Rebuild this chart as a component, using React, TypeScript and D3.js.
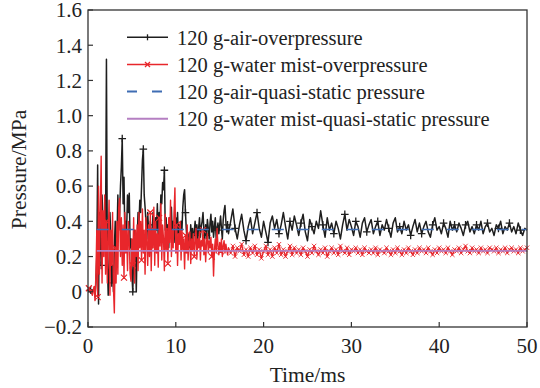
import React from "react";
import * as d3 from "d3";

const stepEarly = 0.1; // ms, 0 .. 16 ms
const lateStart = 16.25;
const stepLate = 0.25; // ms, 16.25 .. 50 ms

// 120 g - air - overpressure (MPa)
const airEarly = [
  0.01, 0.0, 0.02, 0.01, -0.01, 0.0, 0.01, 0.02, -0.03, 0.05,
  0.2, 0.72, -0.07, 0.45, 0.3, 0.15, 0.55, 0.4, 0.25, 0.38,
  0.35, 1.32, 0.2, -0.02, 0.1, 0.45, 0.3, 0.05, 0.15, 0.0,
  0.25, 0.4, 0.15, 0.3, 0.55, 0.35, 0.45, 0.6, 0.71, 0.87,
  0.5, 0.65, 0.3, 0.4, 0.35, 0.55, 0.45, 0.56, 0.25, 0.3,
  0.1, 0.0, 0.2, 0.35, 0.25, 0.0, 0.3, 0.45, 0.38, 0.52,
  0.45, 0.6, 0.75, 0.81, 0.55, 0.48, 0.4, 0.3, 0.45, 0.35,
  0.28, 0.4, 0.32, 0.25, 0.45, 0.38, 0.3, 0.42, 0.35, 0.5,
  0.3, 0.45, 0.38, 0.55, 0.5, 0.62, 0.58, 0.69, 0.35, 0.42,
  0.3, 0.38, 0.25, 0.42, 0.35, 0.48, 0.32, 0.4, 0.28, 0.36,
  0.42, 0.33, 0.45, 0.3, 0.38, 0.28, 0.4, 0.35, 0.48, 0.55,
  0.58, 0.45, 0.35, 0.28, 0.22, 0.33, 0.25, 0.38, 0.3, 0.36,
  0.28, 0.34, 0.4, 0.32, 0.38, 0.29, 0.36, 0.42, 0.31, 0.37,
  0.4, 0.45, 0.35, 0.3, 0.38, 0.32, 0.41, 0.36, 0.3, 0.39,
  0.44, 0.34, 0.4, 0.31, 0.37, 0.42, 0.3, 0.35, 0.39, 0.33,
  0.38, 0.43, 0.36, 0.3, 0.41, 0.46, 0.49, 0.4, 0.34, 0.38,
  0.33,
];
const airLate = [
  0.4, 0.47, 0.36, 0.3, 0.38, 0.44, 0.35, 0.29,
  0.37, 0.42, 0.33, 0.39, 0.45, 0.36, 0.31, 0.4,
  0.34, 0.28, 0.39, 0.43, 0.36, 0.41, 0.33, 0.38,
  0.45, 0.37, 0.3, 0.4, 0.35, 0.43, 0.38, 0.32,
  0.39, 0.44, 0.34, 0.29, 0.41, 0.37, 0.33, 0.4,
  0.36, 0.46, 0.38, 0.31, 0.42, 0.35, 0.39, 0.33,
  0.4, 0.36, 0.3, 0.38, 0.44, 0.35, 0.41, 0.37,
  0.32, 0.4, 0.37, 0.31, 0.39, 0.42, 0.34, 0.38,
  0.41, 0.33, 0.37, 0.4, 0.32, 0.38, 0.35, 0.41,
  0.36, 0.31, 0.39, 0.42, 0.34, 0.37, 0.33, 0.4,
  0.35, 0.38, 0.32, 0.37, 0.41, 0.34, 0.39, 0.33,
  0.37, 0.4, 0.34, 0.31, 0.38, 0.42, 0.35, 0.37,
  0.33, 0.39, 0.36, 0.31, 0.4, 0.35, 0.38, 0.34,
  0.39, 0.36, 0.32, 0.38, 0.4, 0.34, 0.37, 0.33,
  0.38, 0.35, 0.4, 0.33, 0.37, 0.39, 0.34, 0.36,
  0.32, 0.38, 0.36, 0.4, 0.33, 0.37, 0.35, 0.39,
  0.34, 0.37, 0.33, 0.39, 0.35, 0.32, 0.36, 0.35,
];

// 120 g - water mist - overpressure (MPa)
const mistEarly = [
  0.01, 0.02, 0.0, 0.01, 0.0, -0.02, 0.01, 0.03, -0.05, 0.1,
  0.35, -0.03, 0.6, 0.1, 0.45, 0.77, 0.05, 0.46, 0.2, 0.55,
  0.1, 0.4, 0.05, 0.3, 0.52, -0.02, 0.35, 0.15, 0.45, 0.02,
  -0.12, 0.25, 0.05, 0.4, 0.1, 0.48, 0.53, 0.2, 0.42, 0.15,
  0.38, 0.08, 0.45, 0.22, 0.35, 0.12, 0.4, 0.28, 0.1, 0.06,
  0.3, 0.15, 0.42, 0.05, 0.35, 0.2, 0.38, 0.12, 0.45, 0.25,
  0.4, 0.18, 0.47, 0.22, 0.35, 0.1, 0.42, 0.28, 0.15, 0.38,
  0.2, 0.45, 0.12, 0.36, 0.25, 0.48, 0.15, 0.4, 0.22, 0.33,
  0.14, 0.42, 0.26, 0.5, 0.18, 0.38, 0.3, 0.12, 0.44, 0.24,
  0.36, 0.16, 0.42, 0.28, 0.52, 0.2, 0.35, 0.25, 0.45, 0.59,
  0.22, 0.38, 0.15, 0.33, 0.27, 0.4, 0.18, 0.35, 0.24, 0.3,
  0.13, 0.32, 0.22, 0.38, 0.18, 0.28, 0.34, 0.16, 0.3, 0.24,
  0.33, 0.2, 0.28, 0.36, 0.19, 0.3, 0.25, 0.34, 0.18, 0.29,
  0.26, 0.35, 0.21, 0.3, 0.17, 0.28, 0.33, 0.22, 0.29, 0.25,
  0.31, 0.2, 0.27, 0.09, 0.24, 0.3, 0.22, 0.36, 0.26, 0.21,
  0.28, 0.23, 0.3, 0.2, 0.26, 0.29, 0.22, 0.27, 0.24, 0.21,
  0.25,
];
const mistLate = [
  0.22, 0.26, 0.2, 0.25, 0.23, 0.27, 0.21, 0.24,
  0.2, 0.25, 0.22, 0.26, 0.21, 0.24, 0.19, 0.23,
  0.26, 0.21, 0.24, 0.2, 0.25, 0.22, 0.27, 0.21,
  0.24, 0.2, 0.23, 0.26, 0.21, 0.25, 0.22, 0.24,
  0.21, 0.25, 0.23, 0.2, 0.24, 0.22, 0.26, 0.23,
  0.21, 0.24, 0.22, 0.25, 0.2, 0.23, 0.25, 0.22,
  0.24, 0.21, 0.26, 0.23, 0.22, 0.25, 0.21, 0.24,
  0.23, 0.25, 0.22, 0.24, 0.21, 0.25, 0.23, 0.22,
  0.24, 0.22, 0.25, 0.21, 0.24, 0.23, 0.22, 0.25,
  0.23, 0.21, 0.24, 0.22, 0.25, 0.23, 0.21, 0.24,
  0.22, 0.25, 0.23, 0.21, 0.24, 0.22, 0.25, 0.23,
  0.24, 0.22, 0.25, 0.23, 0.21, 0.24, 0.22, 0.25,
  0.23, 0.24, 0.22, 0.25, 0.23, 0.21, 0.24, 0.23,
  0.25, 0.22, 0.24, 0.26, 0.23, 0.22, 0.25, 0.23,
  0.24, 0.22, 0.25, 0.23, 0.24, 0.22, 0.25, 0.24,
  0.23, 0.25, 0.22, 0.24, 0.23, 0.25, 0.22, 0.24,
  0.25, 0.23, 0.24, 0.22, 0.25, 0.23, 0.24, 0.25,
];

// quasi-static pressure levels (MPa) and their time span (ms)
const quasiSpan = [1.0, 50];
const airQuasi = 0.354;
const mistQuasi = 0.232;

const xTicks = [0, 10, 20, 30, 40, 50];
const yTicks = [-0.2, 0, 0.2, 0.4, 0.6, 0.8, 1.0, 1.2, 1.4, 1.6];
const yTickLabels = ["\u22120.2", "0", "0.2", "0.4", "0.6", "0.8", "1.0", "1.2", "1.4", "1.6"];
const legendLabels = [
  "120 g-air-overpressure",
  "120 g-water mist-overpressure",
  "120 g-air-quasi-static pressure",
  "120 g-water mist-quasi-static pressure",
];

const W = 540;
const H = 388;
const margin = { left: 88, right: 13, top: 10, bottom: 61 };
const font = "'Liberation Serif', 'Times New Roman', Times, serif";
const cBlack = "#1e1e1e";
const cRed = "#e8262b";
const cBlue = "#3f6db3";
const cPurple = "#b57fc2";

function toPoints(early: number[], late: number[]): [number, number][] {
  const a: [number, number][] = early.map((v, i) => [i * stepEarly, v]);
  const b: [number, number][] = late.map((v, i) => [lateStart + i * stepLate, v]);
  return a.concat(b);
}

export default function App() {
  const x = d3.scaleLinear().domain([0, 50]).range([margin.left, W - margin.right]);
  const y = d3.scaleLinear().domain([-0.2, 1.6]).range([H - margin.bottom, margin.top]);

  const air = toPoints(airEarly, airLate);
  const mist = toPoints(mistEarly, mistLate);

  const line = d3
    .line<[number, number]>()
    .x((d) => x(d[0]))
    .y((d) => y(d[1]));

  // markers: "+" for air, "x" for water mist
  const plusPath = (pts: [number, number][], s: number) =>
    pts
      .map((d) => {
        const px = x(d[0]);
        const py = y(d[1]);
        return `M${px - s},${py}H${px + s}M${px},${py - s}V${py + s}`;
      })
      .join("");
  const crossPath = (pts: [number, number][], s: number) =>
    pts
      .map((d) => {
        const px = x(d[0]);
        const py = y(d[1]);
        return `M${px - s},${py - s}L${px + s},${py + s}M${px - s},${py + s}L${px + s},${py - s}`;
      })
      .join("");

  const airMarks = air.filter((d, i) =>
    i < airEarly.length ? i % 12 === 3 : (i - airEarly.length) % 5 === 2
  );
  const mistMarksEarly = mist.filter((d, i) => i < mistEarly.length && i % 10 === 1);
  const mistMarksLate = mist.filter((d, i) => i >= mistEarly.length);

  const x0 = margin.left;
  const x1 = W - margin.right;
  const y0 = H - margin.bottom;
  const y1 = margin.top;

  const legendY = [37.3, 64.5, 91.5, 118.7];

  return (
    <svg
      width={W}
      height={H}
      style={{ position: "absolute", left: 0, top: 0, background: "#fff" }}
      fontFamily={font}
    >
      {/* traces */}
      <path d={line(air) ?? ""} fill="none" stroke={cBlack} strokeWidth={1.5} strokeLinejoin="round" />
      <path d={plusPath(airMarks, 3.8)} fill="none" stroke={cBlack} strokeWidth={1.3} />
      <path d={line(mist) ?? ""} fill="none" stroke={cRed} strokeWidth={1.4} strokeLinejoin="round" />
      <path d={crossPath(mistMarksEarly, 3)} fill="none" stroke={cRed} strokeWidth={1.2} />
      <path d={crossPath(mistMarksLate, 2.2)} fill="none" stroke={cRed} strokeWidth={1} opacity={0.9} />
      <line
        x1={x(quasiSpan[0])}
        x2={x(quasiSpan[1])}
        y1={y(airQuasi)}
        y2={y(airQuasi)}
        stroke={cBlue}
        strokeWidth={1.6}
        strokeDasharray="12 13"
      />
      <line
        x1={x(quasiSpan[0])}
        x2={x(quasiSpan[1])}
        y1={y(mistQuasi)}
        y2={y(mistQuasi)}
        stroke={cPurple}
        strokeWidth={1.6}
      />

      {/* frame */}
      <rect x={x0} y={y1} width={x1 - x0} height={y0 - y1} fill="none" stroke="#333" strokeWidth={1.3} />

      {/* x axis */}
      {xTicks.map((t) => (
        <g key={"x" + t}>
          <line x1={x(t)} x2={x(t)} y1={y0} y2={y0 - 5} stroke="#333" strokeWidth={1.2} />
          <text x={x(t)} y={352.5} textAnchor="middle" fontSize={21} fill="#222">
            {t}
          </text>
        </g>
      ))}
      <text x={(x0 + x1) / 2} y={381.5} textAnchor="middle" fontSize={21.5} fill="#222">
        Time/ms
      </text>

      {/* y axis */}
      {yTicks.map((t, i) => (
        <g key={"y" + t}>
          <line x1={x0} x2={x0 + 5} y1={y(t)} y2={y(t)} stroke="#333" strokeWidth={1.2} />
          <text x={82} y={y(t)} dy="0.35em" textAnchor="end" fontSize={21} fill="#222">
            {yTickLabels[i]}
          </text>
        </g>
      ))}
      <text
        transform={`translate(26,${(y0 + y1) / 2 + 1}) rotate(-90)`}
        textAnchor="middle"
        fontSize={21.5}
        fill="#222"
      >
        Pressure/MPa
      </text>

      {/* legend */}
      {legendLabels.map((lab, i) => {
        const ly = legendY[i];
        const col = [cBlack, cRed, cBlue, cPurple][i];
        return (
          <g key={lab}>
            <line
              x1={127}
              x2={168}
              y1={ly}
              y2={ly}
              stroke={col}
              strokeWidth={i < 2 ? 1.4 : 1.9}
              strokeDasharray={i === 2 ? "10 15" : undefined}
            />
            {i === 0 && (
              <path d={`M147.5,${ly - 3}V${ly + 3}`} stroke={col} strokeWidth={1.3} />
            )}
            {i === 1 && (
              <path
                d={`M145,${ly - 2.5}L150,${ly + 2.5}M145,${ly + 2.5}L150,${ly - 2.5}`}
                stroke={col}
                strokeWidth={1.3}
              />
            )}
            <text x={177} y={ly + 7.5} fontSize={20.5} fill="#222">
              {lab}
            </text>
          </g>
        );
      })}
    </svg>
  );
}
